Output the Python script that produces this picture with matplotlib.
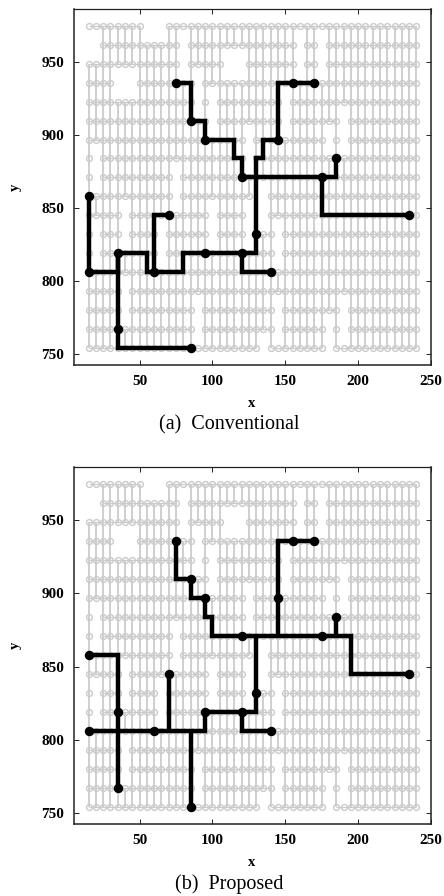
import matplotlib
matplotlib.use("Agg")
import matplotlib.pyplot as plt
import numpy as np

plt.rcParams['font.family'] = ['Liberation Serif', 'DejaVu Serif']

W, H = 444, 896
x_ticks = [50, 100, 150, 200, 250]
y_ticks = [750, 800, 850, 900, 950]
x_lim = (5, 250)
y_lim = (742.2, 986.6)

# grid nodes: for each y row, inclusive x spans (step 5)
row_y = [975, 962, 949, 936, 923, 910, 897, 884, 871, 858, 845, 832, 819, 806, 793, 780, 767, 754]
row_spans = [
    [(15, 50), (70, 240)],
    [(25, 75), (85, 155), (165, 170), (180, 240)],
    [(15, 75), (85, 105), (125, 155), (165, 170), (180, 240)],
    [(15, 30), (50, 85), (95, 240)],
    [(15, 85), (95, 95), (105, 145), (155, 240)],
    [(15, 95), (105, 145), (155, 185), (195, 240)],
    [(15, 120), (130, 175), (185, 185), (195, 240)],
    [(15, 15), (25, 120), (130, 240)],
    [(15, 15), (25, 70), (80, 240)],
    [(15, 70), (80, 125), (140, 240)],
    [(15, 35), (45, 95), (105, 120), (140, 240)],
    [(15, 15), (25, 35), (45, 60), (70, 95), (105, 120), (130, 140), (150, 240)],
    [(15, 15), (25, 60), (70, 140), (150, 240)],
    [(15, 240)],
    [(15, 35), (45, 240)],
    [(15, 35), (45, 85), (95, 140), (150, 185), (195, 240)],
    [(15, 85), (95, 140), (150, 175), (185, 185), (195, 240)],
    [(15, 130), (140, 175), (185, 240)],
]

# routes: lists of polylines
conv_paths = [
    [(75, 936), (85, 936), (85, 910), (95, 910), (95, 897), (115, 897), (115, 884), (120, 884), (120, 871), (185, 871), (185, 884)],
    [(175, 871), (175, 845), (235, 845)],
    [(170, 936), (145, 936), (145, 897), (135, 897), (135, 884), (130, 884), (130, 819), (80, 819), (80, 806), (55, 806), (55, 819), (35, 819), (35, 806), (15, 806), (15, 858)],
    [(60, 806), (60, 845), (70, 845)],
    [(35, 819), (35, 754), (85, 754)],
    [(120, 819), (120, 806), (140, 806)],
]
conv_nodes = [(75, 936), (85, 910), (95, 897), (120, 871), (175, 871), (185, 884), (235, 845), (145, 897), (155, 936),
              (170, 936), (130, 832), (120, 819), (95, 819), (60, 806), (70, 845), (35, 819), (15, 806), (15, 858),
              (35, 767), (85, 754), (140, 806)]

prop_paths = [
    [(75, 936), (75, 910), (85, 910), (85, 897), (95, 897), (95, 884), (100, 884), (100, 871), (195, 871), (195, 845), (235, 845)],
    [(145, 871), (145, 936), (170, 936)],
    [(185, 871), (185, 884)],
    [(130, 871), (130, 819), (95, 819), (95, 806), (15, 806)],
    [(120, 819), (120, 806), (140, 806)],
    [(15, 858), (35, 858), (35, 767)],
    [(70, 806), (70, 845)],
    [(85, 806), (85, 754)],
]
prop_nodes = [(75, 936), (85, 910), (95, 897), (120, 871), (175, 871), (185, 884), (235, 845), (145, 897), (155, 936),
              (170, 936), (130, 832), (120, 819), (95, 819), (60, 806), (70, 845), (35, 819), (15, 806), (15, 858),
              (35, 767), (85, 754), (140, 806)]

GRAY = '#cbcbcb'


def rect(l, t, r, b):
    return [l / W, 1 - b / H, (r - l) / W, (b - t) / H]


def draw(ax, paths, nodes):
    present = {}
    for y, spans in zip(row_y, row_spans):
        xs = []
        for a, b in spans:
            xs += list(range(a, b + 1, 5))
            if b > a:
                ax.plot([a, b], [y, y], color=GRAY, lw=0.9, zorder=1, solid_capstyle='butt')
        present[y] = set(xs)
    for y0, y1 in zip(row_y[:-1], row_y[1:]):
        for x in sorted(present[y0] & present[y1]):
            ax.plot([x, x], [y0, y1], color=GRAY, lw=1.3, zorder=1, solid_capstyle='butt')
    for y in row_y:
        xs = sorted(present[y])
        ax.plot(xs, [y] * len(xs), ls='none', marker='o', ms=4.2, mfc='none', mec=GRAY, mew=1.0, zorder=2)
    for p in paths:
        arr = np.array(p)
        ax.plot(arr[:, 0], arr[:, 1], color='black', lw=3.2, zorder=3, solid_joinstyle='miter', solid_capstyle='butt')
    n = np.array(nodes)
    ax.plot(n[:, 0], n[:, 1], ls='none', marker='o', ms=5.8, color='black', zorder=4)
    ax.set_xlim(*x_lim)
    ax.set_ylim(*y_lim)
    ax.set_xticks(x_ticks)
    ax.set_yticks(y_ticks)
    ax.set_xticklabels([str(v) for v in x_ticks], fontweight='bold', fontsize=11)
    ax.set_yticklabels([str(v) for v in y_ticks], fontweight='bold', fontsize=11)
    ax.tick_params(direction='in', length=3.6, width=0.7, top=True, right=True, color='#222222')
    ax.tick_params(axis='x', pad=7.5)
    ax.tick_params(axis='y', pad=7)
    for s in ax.spines.values():
        s.set_linewidth(1.1)
        s.set_color('#222222')
    ax.spines['top'].set_linewidth(0.9)


fig = plt.figure(figsize=(W / 100, H / 100), dpi=100)

ax1 = fig.add_axes(rect(74, 9, 431, 365))
draw(ax1, conv_paths, conv_nodes)
ax1.set_xlabel('x', fontweight='bold', fontsize=10.5, va='center')
ax1.xaxis.set_label_coords(252 / W, 1 - 403 / H, transform=fig.transFigure)
ax1.set_ylabel('y', fontweight='bold', fontsize=10.5, va='center')
ax1.yaxis.set_label_coords(15 / W, 1 - 187 / H, transform=fig.transFigure)
fig.text(229 / W, 1 - 425 / H, '(a)  Conventional', ha='center', va='center', fontsize=14.5)

ax2 = fig.add_axes(rect(74, 467, 431, 824))
draw(ax2, prop_paths, prop_nodes)
ax2.set_xlabel('x', fontweight='bold', fontsize=10.5, va='center')
ax2.xaxis.set_label_coords(252 / W, 1 - 862 / H, transform=fig.transFigure)
ax2.set_ylabel('y', fontweight='bold', fontsize=10.5, va='center')
ax2.yaxis.set_label_coords(15 / W, 1 - 645 / H, transform=fig.transFigure)
fig.text(229 / W, 1 - 884 / H, '(b)  Proposed', ha='center', va='center', fontsize=14.5)

fig.savefig('out.png', dpi=100)
